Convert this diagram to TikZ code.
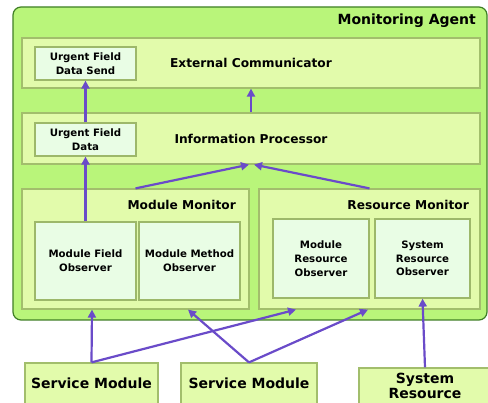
\documentclass[tikz,border=0pt]{standalone}
\usepackage{fontspec}
\setmainfont{DejaVu Sans}
\usetikzlibrary{arrows.meta}
\definecolor{agentfill}{HTML}{B9F57A}
\definecolor{agentdraw}{HTML}{3F7F25}
\definecolor{midfill}{HTML}{E2FBAB}
\definecolor{middraw}{HTML}{A2BE6C}
\definecolor{infill}{HTML}{E9FDE5}
\definecolor{indraw}{HTML}{9DB86A}
\definecolor{arrowc}{HTML}{6A4BC9}
\tikzset{
  agent/.style={draw=agentdraw, fill=agentfill, line width=1.2pt, rounded corners=8pt, inner sep=0pt},
  midbox/.style={draw=middraw, fill=midfill, line width=1.2pt, inner sep=0pt, font=\bfseries\fontsize{12.2}{14}\selectfont},
  inbox/.style={draw=indraw, fill=infill, line width=1.2pt, inner sep=0pt, align=center, font=\bfseries\fontsize{10.2}{13.7}\selectfont},
  extbox/.style={draw=middraw, fill=midfill, line width=1.2pt, inner sep=0pt},
  extlbl/.style={inner sep=0pt, align=center, font=\bfseries\fontsize{14}{15}\selectfont},
  lbl/.style={inner sep=0pt, font=\bfseries\fontsize{12.2}{14}\selectfont},
  arr/.style={draw=arrowc, line width=2.2pt, -{Triangle[length=8pt,width=8pt]}}
}
\begin{document}
\begin{tikzpicture}[x=1pt,y=-1pt]
\useasboundingbox (0,0) rectangle (488,403);
\fill[white] (0,0) rectangle (488,403);
% outer agent
\node[agent, minimum width=474pt, minimum height=313pt] (agent) at (250,163.5) {};
\node[lbl, anchor=east, font=\bfseries\fontsize{14}{16}\selectfont] (agentlbl) at (476,21) {Monitoring Agent};
% external communicator
\node[midbox, minimum width=458pt, minimum height=50pt] (ec) at (251,63) {External Communicator};
\node[inbox, minimum width=101pt, minimum height=33pt] (ufds) at (85.5,63.5) {Urgent Field\\Data Send};
% information processor
\node[midbox, minimum width=458pt, minimum height=51pt] (ip) at (251,138.5) {Information Processor};
\node[inbox, minimum width=101pt, minimum height=33pt] (ufd) at (85.5,139.5) {Urgent Field\\Data};
% monitors
\node[midbox, minimum width=227pt, minimum height=120pt] (mm) at (135.5,249) {};
\node[lbl, anchor=east] (mmlbl) at (236,205) {Module Monitor};
\node[midbox, minimum width=221pt, minimum height=120pt] (rm) at (369.5,249) {};
\node[lbl, anchor=east] (rmlbl) at (469,205) {Resource Monitor};
% observers
\node[inbox, minimum width=101pt, minimum height=78pt] (mfo) at (85.5,261) {Module Field\\Observer};
\node[inbox, minimum width=101pt, minimum height=78pt] (mmo) at (189.5,261) {Module Method\\Observer};
\node[inbox, minimum width=96pt, minimum height=79pt] (mro) at (321,258.5) {Module\\Resource\\Observer};
\node[inbox, minimum width=95pt, minimum height=79pt] (sro) at (422.5,258.5) {System\\Resource\\Observer};
% external boxes
\node[extbox, minimum width=133pt, minimum height=47pt] (sm1) at (91.5,386.5) {};
\node[extlbl] (sm1lbl) at (91.5,383) {Service Module};
\node[extbox, minimum width=136pt, minimum height=47pt] (sm2) at (249,386.5) {};
\node[extlbl] (sm2lbl) at (249,383) {Service Module};
\node[extbox, minimum width=136pt, minimum height=47pt] (sr) at (427,391.5) {};
\node[extlbl] (srlbl) at (425,385.5) {System\\Resource};
% arrows
\draw[arr] (ufd.north) -- (ufds.south);
\draw[arr] (ip.north) -- (ec.south);
\draw[arr] (mfo.north) -- (ufd.south);
\draw[arr] (mm.north) -- ([xshift=-2pt]ip.south);
\draw[arr] (rm.north) -- ([xshift=3pt]ip.south);
\draw[arr] (sm1.north) -- ([xshift=-43.5pt]mm.south);
\draw[arr] (sm1.north) -- ([xshift=-73.5pt]rm.south);
\draw[arr] (sm2.north) -- ([xshift=52.5pt]mm.south);
\draw[arr] (sm2.north) -- ([xshift=-1.5pt]rm.south);
\draw[arr] ([xshift=-2pt]sr.north) -- (sro.south);
\end{tikzpicture}
\end{document}
